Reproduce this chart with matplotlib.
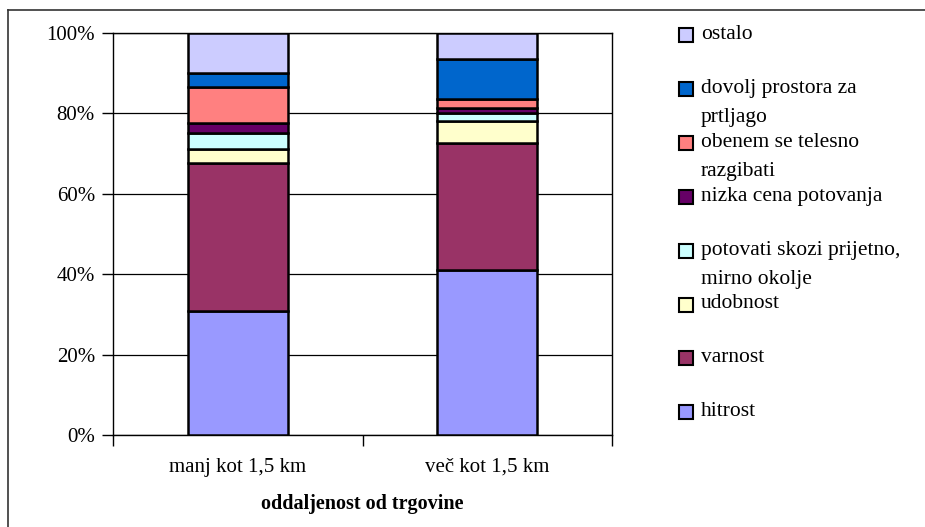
import numpy as np
import matplotlib.pyplot as plt
from matplotlib.patches import Rectangle
from matplotlib.lines import Line2D

plt.rcParams['font.family'] = ['Liberation Serif', 'DejaVu Serif']

categories = ['manj kot 1,5 km', 'več kot 1,5 km']
series = ['hitrost', 'varnost', 'udobnost',
          'potovati skozi prijetno,\nmirno okolje', 'nizka cena potovanja',
          'obenem se telesno\nrazgibati', 'dovolj prostora za\nprtljago', 'ostalo']
values = [
    [30.8, 41.0],   # hitrost
    [36.9, 31.6],   # varnost
    [3.4, 5.5],     # udobnost
    [4.1, 2.0],     # potovati skozi prijetno, mirno okolje
    [2.4, 1.2],     # nizka cena potovanja
    [9.0, 2.3],     # obenem se telesno razgibati
    [3.4, 9.9],     # dovolj prostora za prtljago
    [10.0, 6.5],    # ostalo
]
colors = ['#9999FF', '#993366', '#FFFFCC', '#CCFFFF', '#660066',
          '#FF8080', '#0066CC', '#CCCCFF']

fig = plt.figure(figsize=(9.25, 5.27), dpi=100)
ax = fig.add_axes([113/925, 1-435/527, 499/925, 402/527])

x = np.arange(len(categories))
bottom = np.zeros(len(categories))
for vals, col in zip(values, colors):
    ax.bar(x, vals, 0.4, bottom=bottom, color=col, edgecolor='black',
           linewidth=1.8, zorder=3)
    bottom += np.array(vals)

ax.set_xlim(-0.5, 1.5)
ax.set_ylim(0, 100)
ax.set_yticks(np.arange(0, 101, 20))
ax.set_yticklabels([f'{v}%' for v in range(0, 101, 20)], fontsize=15)
ax.yaxis.grid(True, color='black', linewidth=0.9, zorder=0)
ax.tick_params(axis='y', direction='out', length=8, width=1, pad=5)

ax.set_xticks([-0.5, 0.5, 1.5])
ax.set_xticklabels([])
ax.tick_params(axis='x', direction='out', length=8, width=1)
for xi, lab in zip(x, categories):
    ax.text(xi, -8, lab, ha='center', va='center', fontsize=15)
ax.text(0.5, -17.2, 'oddaljenost od trgovine', ha='center', va='center',
        fontsize=14.5, fontweight='bold')

for sp in ax.spines.values():
    sp.set_color('black')
    sp.set_linewidth(1)

# legend, top to bottom
sq = 14
for i, (lab, col) in enumerate(zip(series[::-1], colors[::-1])):
    cy = 35 + i * 53.9
    fig.patches.append(Rectangle((679/925, 1-(cy+sq/2)/527), sq/925, sq/527,
                                 facecolor=col, edgecolor='black', linewidth=1.5,
                                 transform=fig.transFigure))
    fig.text(701/925, 1-(cy-10)/527, lab, ha='left', va='top', fontsize=15.5,
             linespacing=1.72)

# chart border
fig.add_artist(Line2D([8/925, 8/925], [0, 1-10/527], color='#333333', linewidth=1.2))
fig.add_artist(Line2D([8/925, 1], [1-10/527, 1-10/527], color='#333333', linewidth=1.2))

fig.savefig('out.png', dpi=100)
